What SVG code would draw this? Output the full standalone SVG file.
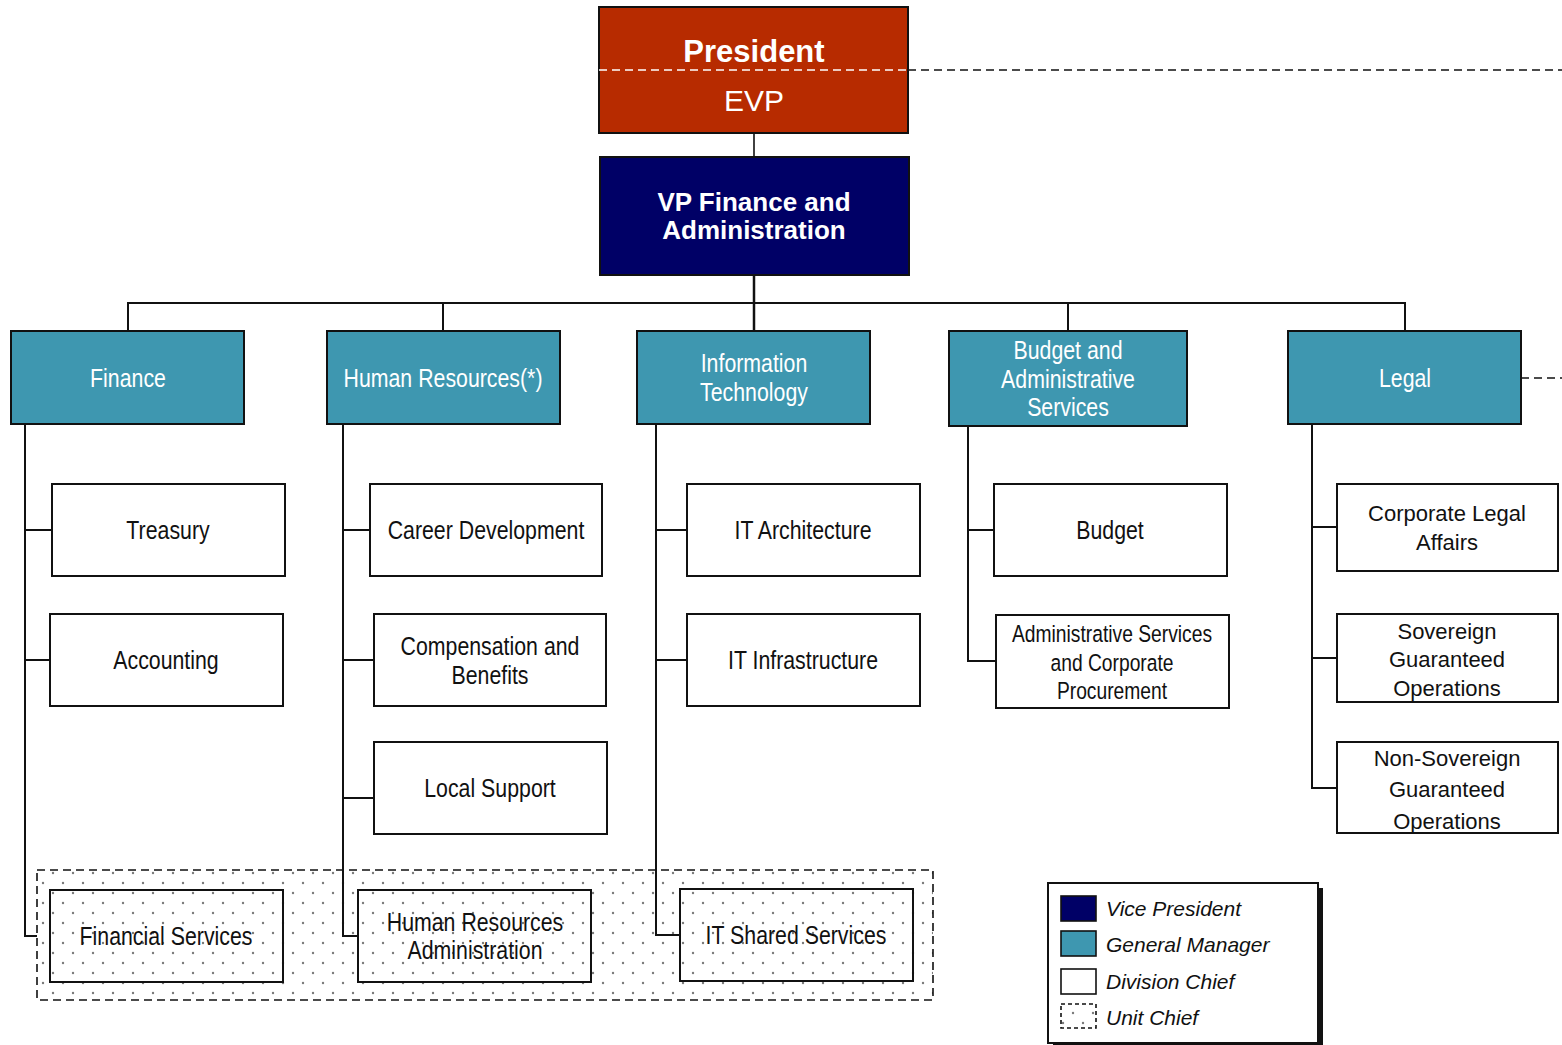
<svg xmlns="http://www.w3.org/2000/svg" width="1562" height="1045" viewBox="0 0 1562 1045">
<style>
.box{stroke:#111;stroke-width:2}
.gm{fill:#3E97B0}
.dc{fill:#fff}
.uc{fill:url(#dots)}
.n{font-family:"Liberation Sans Narrow","Arial Narrow","Liberation Sans",sans-serif;font-size:26px;text-anchor:middle}
.s{font-size:23.5px}
.w{fill:#fff}
.k{fill:#111}
.a{font-family:"Liberation Sans",Arial,sans-serif;font-size:22px;text-anchor:middle;fill:#111}
.leg{font-family:"Liberation Sans",Arial,sans-serif;font-size:21px;font-style:italic;fill:#111}
.c{fill:none;stroke:#111;stroke-width:2}
</style>
<defs>
<pattern id="dots" patternUnits="userSpaceOnUse" width="20" height="20">
<rect width="20" height="20" fill="#fff"/>
<circle cx="3" cy="3" r="1.2" fill="#7a7a7a"/>
<circle cx="13" cy="13" r="1.2" fill="#7a7a7a"/>
</pattern>
</defs>
<rect width="1562" height="1045" fill="#fff"/>

<g id="unit-area">
<rect x="37" y="870" width="896" height="130" fill="url(#dots)" stroke="#111" stroke-width="1.6" stroke-dasharray="8,5"/>
</g>

<g id="connectors">
<line x1="908" y1="70" x2="1562" y2="70" stroke="#111" stroke-width="1.6" stroke-dasharray="8,5"/>
<line x1="1521" y1="378" x2="1562" y2="378" stroke="#111" stroke-width="1.6" stroke-dasharray="8,5"/>
<line class="c" x1="754" y1="133" x2="754" y2="157" style="stroke-width:1.6"/>
<line class="c" x1="754" y1="275" x2="754" y2="331" style="stroke-width:2.5"/>
<polyline class="c" points="128,331 128,303 1405,303 1405,331"/>
<line class="c" x1="443" y1="303" x2="443" y2="331"/>
<line class="c" x1="1068" y1="303" x2="1068" y2="331"/>
<polyline class="c" points="25,424 25,936 37,936"/>
<line class="c" x1="25" y1="530" x2="52" y2="530"/>
<line class="c" x1="25" y1="660" x2="50" y2="660"/>
<polyline class="c" points="343,424 343,936 358,936"/>
<line class="c" x1="343" y1="530" x2="370" y2="530"/>
<line class="c" x1="343" y1="660" x2="374" y2="660"/>
<line class="c" x1="343" y1="798" x2="374" y2="798"/>
<polyline class="c" points="656,424 656,935 680,935"/>
<line class="c" x1="656" y1="530" x2="687" y2="530"/>
<line class="c" x1="656" y1="660" x2="687" y2="660"/>
<polyline class="c" points="968,426 968,661 996,661"/>
<line class="c" x1="968" y1="530" x2="994" y2="530"/>
<polyline class="c" points="1312,424 1312,788 1337,788"/>
<line class="c" x1="1312" y1="527" x2="1337" y2="527"/>
<line class="c" x1="1312" y1="658" x2="1337" y2="658"/>
</g>

<g id="president">
<rect class="box" x="599" y="7" width="309" height="126" fill="#B72B00"/>
<line x1="599" y1="70" x2="908" y2="70" stroke="#fff" stroke-width="1.6" stroke-dasharray="8,5"/>
<text x="754" y="62" font-family="Liberation Sans,Arial,sans-serif" font-size="31" font-weight="bold" fill="#fff" text-anchor="middle">President</text>
<text x="754" y="111" font-family="Liberation Sans,Arial,sans-serif" font-size="30" fill="#fff" text-anchor="middle">EVP</text>
</g>

<g id="vp">
<rect class="box" x="600" y="157" width="309" height="118" fill="#000066"/>
<text x="754" y="211" font-family="Liberation Sans,Arial,sans-serif" font-size="26" font-weight="bold" fill="#fff" text-anchor="middle">VP Finance and</text>
<text x="754" y="239" font-family="Liberation Sans,Arial,sans-serif" font-size="26" font-weight="bold" fill="#fff" text-anchor="middle">Administration</text>
</g>

<g id="finance">
<rect class="box gm" x="11" y="331" width="233" height="93"/>
<text class="n w" transform="translate(128 387) scale(0.82 1)">Finance</text>
</g>
<g id="hr">
<rect class="box gm" x="327" y="331" width="233" height="93"/>
<text class="n w" transform="translate(443 387) scale(0.82 1)">Human Resources(*)</text>
</g>
<g id="it">
<rect class="box gm" x="637" y="331" width="233" height="93"/>
<text class="n w" transform="translate(754 372) scale(0.82 1)">Information</text>
<text class="n w" transform="translate(754 401) scale(0.82 1)">Technology</text>
</g>
<g id="budget-admin">
<rect class="box gm" x="949" y="331" width="238" height="95"/>
<text class="n w" transform="translate(1068 359) scale(0.82 1)">Budget and</text>
<text class="n w" transform="translate(1068 388) scale(0.82 1)">Administrative</text>
<text class="n w" transform="translate(1068 416) scale(0.82 1)">Services</text>
</g>
<g id="legal">
<rect class="box gm" x="1288" y="331" width="233" height="93"/>
<text class="n w" transform="translate(1405 387) scale(0.82 1)">Legal</text>
</g>

<g id="treasury">
<rect class="box dc" x="52" y="484" width="233" height="92"/>
<text class="n k" transform="translate(168 539) scale(0.82 1)">Treasury</text>
</g>
<g id="accounting">
<rect class="box dc" x="50" y="614" width="233" height="92"/>
<text class="n k" transform="translate(166 669) scale(0.82 1)">Accounting</text>
</g>
<g id="career-development">
<rect class="box dc" x="370" y="484" width="232" height="92"/>
<text class="n k" transform="translate(486 539) scale(0.82 1)">Career Development</text>
</g>
<g id="compensation-benefits">
<rect class="box dc" x="374" y="614" width="232" height="92"/>
<text class="n k" transform="translate(490 655) scale(0.82 1)">Compensation and</text>
<text class="n k" transform="translate(490 684) scale(0.82 1)">Benefits</text>
</g>
<g id="local-support">
<rect class="box dc" x="374" y="742" width="233" height="92"/>
<text class="n k" transform="translate(490 797) scale(0.82 1)">Local Support</text>
</g>
<g id="it-architecture">
<rect class="box dc" x="687" y="484" width="233" height="92"/>
<text class="n k" transform="translate(803 539) scale(0.82 1)">IT Architecture</text>
</g>
<g id="it-infrastructure">
<rect class="box dc" x="687" y="614" width="233" height="92"/>
<text class="n k" transform="translate(803 669) scale(0.82 1)">IT Infrastructure</text>
</g>
<g id="budget">
<rect class="box dc" x="994" y="484" width="233" height="92"/>
<text class="n k" transform="translate(1110 539) scale(0.82 1)">Budget</text>
</g>
<g id="admin-services">
<rect class="box dc" x="996" y="615" width="233" height="93"/>
<text class="n k s" transform="translate(1112 642) scale(0.82 1)">Administrative Services</text>
<text class="n k s" transform="translate(1112 671) scale(0.82 1)">and Corporate</text>
<text class="n k s" transform="translate(1112 699) scale(0.82 1)">Procurement</text>
</g>
<g id="corporate-legal">
<rect class="box dc" x="1337" y="484" width="221" height="87"/>
<text class="a" x="1447" y="521">Corporate Legal</text>
<text class="a" x="1447" y="550">Affairs</text>
</g>
<g id="sovereign">
<rect class="box dc" x="1337" y="614" width="221" height="88"/>
<text class="a" x="1447" y="639">Sovereign</text>
<text class="a" x="1447" y="667">Guaranteed</text>
<text class="a" x="1447" y="696">Operations</text>
</g>
<g id="non-sovereign">
<rect class="box dc" x="1337" y="742" width="221" height="91"/>
<text class="a" x="1447" y="766">Non-Sovereign</text>
<text class="a" x="1447" y="797">Guaranteed</text>
<text class="a" x="1447" y="829">Operations</text>
</g>

<g id="financial-services">
<rect class="box uc" x="50" y="890" width="233" height="92"/>
<text class="n k" transform="translate(166 945) scale(0.82 1)">Financial Services</text>
</g>
<g id="hr-administration">
<rect class="box uc" x="358" y="890" width="233" height="92"/>
<text class="n k" transform="translate(475 931) scale(0.82 1)">Human Resources</text>
<text class="n k" transform="translate(475 959) scale(0.82 1)">Administration</text>
</g>
<g id="it-shared-services">
<rect class="box uc" x="680" y="889" width="233" height="92"/>
<text class="n k" transform="translate(796 944) scale(0.82 1)">IT Shared Services</text>
</g>

<g id="legend">
<rect x="1053" y="888" width="270" height="160" fill="#111"/>
<rect x="1048" y="883" width="270" height="160" fill="#fff" stroke="#111" stroke-width="2"/>
<rect x="1061" y="896" width="35" height="25" fill="#000066" stroke="#111" stroke-width="1.6"/>
<rect x="1061" y="931" width="35" height="25" fill="#3E97B0" stroke="#111" stroke-width="1.6"/>
<rect x="1061" y="969" width="35" height="25" fill="#fff" stroke="#111" stroke-width="1.6"/>
<rect x="1061" y="1004" width="35" height="24" fill="url(#dots)" stroke="#111" stroke-width="1.6" stroke-dasharray="4,3"/>
<text class="leg" x="1106" y="916">Vice President</text>
<text class="leg" x="1106" y="952">General Manager</text>
<text class="leg" x="1106" y="989">Division Chief</text>
<text class="leg" x="1106" y="1025">Unit Chief</text>
</g>
</svg>
